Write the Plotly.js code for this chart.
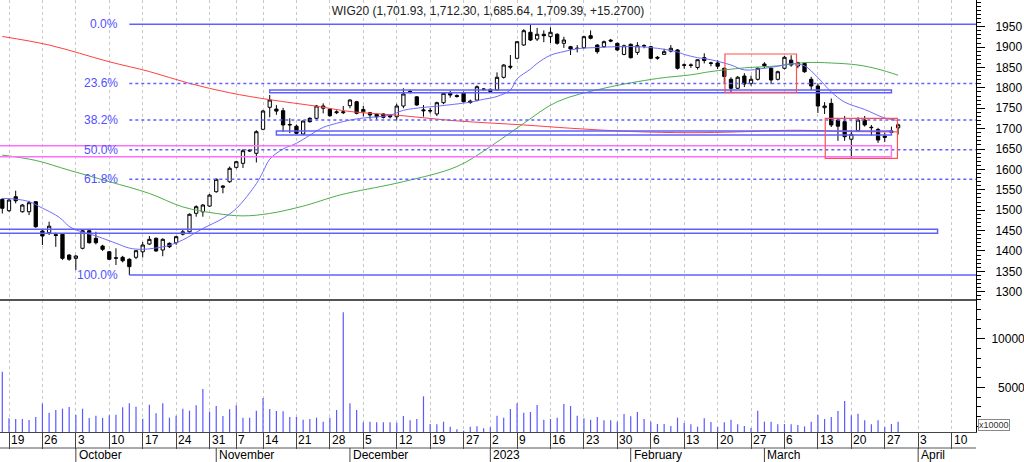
<!DOCTYPE html>
<html><head><meta charset="utf-8">
<script src="https://cdn.plot.ly/plotly-3.0.1.min.js"></script>
<style>html,body{margin:0;padding:0;background:#fff}#chart{width:1024px;height:462px}</style>
</head><body><div id="chart"></div>
<script>
// ---- OHLC (one per trading day, index 0 = 16 Sep 2022 ... 134 = 29 Mar 2023)
const openP = [1526.6,1498.7,1533,1496.2,1496.2,1520.8,1448.9,1444.7,1440,1441,1390,1381.9,1406.5,1449.6,1431,1412,1398,1382,1384.4,1379.5,
1384.4,1398,1417,1431,1402.3,1418.7,1420.2,1441,1447,1492.3,1496,1510,1545.3,1556,1569.8,1605,1614.9,1645,1639.5,1698.4,
1752.3,1748,1744,1709,1706,1686.8,1725.3,1725.3,1750,1747.4,1739,1739,1756.3,1766,1741.5,1739,1735,1735.9,1733,1729,
1755.5,1791,1778,1746,1744.5,1736,1763.6,1786.6,1781,1788,1767.5,1770,1796,1791,1794.7,1825.9,1853,1872.5,1905.1,1936.3,
1919.8,1931.4,1925.5,1931.4,1909.3,1901,1897.5,1898.5,1928,1905,1901,1917,1909.3,1882,1906.8,1887,1902.5,1901,1875,1882,
1890,1893,1856.5,1855,1850,1874,1860,1861,1848,1821,1799,1829,1811,1821,1858.5,1848,1821,1848,1868,1853.6,
1860,1821,1804.6,1751.4,1762,1721,1717,1674,1695,1721,1703.5,1698,1681.9,1691,1701.93];
const highP = [1529,1527,1547.7,1515,1523,1522,1451,1471.7,1445,1443,1392,1390,1452,1452,1447,1415,1400,1406.5,1388,1382,
1402,1422,1436.6,1433,1431,1421,1437,1452,1492,1512,1515,1540,1578,1561.7,1607,1621,1650,1650,1696,1746,
1782.5,1757.8,1751,1725.5,1710,1720,1728,1758,1762,1750,1745,1755.5,1772,1768,1756,1741,1737,1738,1735,1761,
1799,1795,1780,1758,1751,1766,1789,1792.6,1784,1791,1771,1806,1799,1798.5,1838,1858,1880.6,1915,1944,1955.9,
1947,1941,1948.7,1934,1925.5,1903,1905,1928,1941,1907,1916,1920,1911,1906,1909,1912,1907,1903,1878,1896,
1905,1895,1860,1860,1869,1884.8,1864,1868,1850,1826,1829,1836,1830,1850,1863,1850,1842,1878,1880,1864,
1862,1827,1811,1765,1774,1724,1731,1697,1728,1731,1709,1702,1690,1705,1712.30];
const lowP = [1492,1496,1516.8,1494,1488,1457,1414.6,1439,1410,1378,1376,1353,1404,1418,1416,1400,1378,1365.5,1372,1341,
1380,1384,1414.6,1398,1387,1407,1415,1438,1445,1484,1484,1508,1543,1541.4,1567,1602,1603.6,1643,1617,1696,
1727.8,1734,1691.6,1689,1686,1685,1715,1723,1737.6,1729,1735.7,1735.7,1750,1735,1730,1724,1722,1725,1725,1720,
1750,1786,1756,1729.3,1737,1731,1760,1776,1776,1764,1761,1767,1793,1788,1794,1823,1845.5,1870,1903,1915,
1915,1912,1910,1906,1898,1880.6,1887,1896,1919,1884,1898,1912,1890,1880,1872,1881,1897,1870,1869,1881,
1887,1845,1847,1849,1845,1860,1853,1846,1811,1789,1797,1802,1805,1818,1848,1809,1818,1845,1852,1848,
1837,1794,1738.4,1736,1704,1670,1670,1628,1693,1705,1683,1665,1667,1686,1685.64];
const closeP = [1504.6,1524.9,1523,1512.6,1518.3,1459.4,1436.6,1460.7,1438,1381.9,1379.5,1387.5,1449.6,1420.2,1420.2,1404,1379.5,1383,1376,1361.5,
1400.6,1414.6,1428.5,1400,1428.5,1410.4,1435,1447,1490,1508.5,1512.6,1537,1575.7,1559,1602.7,1618.9,1645.9,1647,1692.5,1743.2,
1770.2,1743,1709,1710,1688.5,1718.7,1717,1755.5,1755.5,1731.7,1741,1741,1770.2,1737.6,1747,1733.5,1729,1727.7,1729,1755.5,
1785,1789,1758,1744,1743.5,1763.6,1786.6,1782.5,1779,1766,1764,1802.8,1797,1796.4,1825.9,1856,1851,1913.2,1940.2,1917.4,
1931.4,1928,1936.3,1909.3,1917.4,1895.3,1896.5,1925.5,1921.6,1888.7,1913.2,1915,1893,1903.4,1874,1903.4,1903.5,1872.5,1873,1888.7,
1897,1848,1855.5,1856,1869,1867,1861,1853,1828,1799,1826,1809.5,1821,1848,1854,1819.3,1839.6,1875,1856,1861.8,
1839.6,1804.6,1755.5,1755.5,1709,1706,1680.2,1686,1721,1709,1702.5,1672,1678.7,1694.12,1709.39];
// ---- Volume (x10000)
const volume = [6611,1816,1747,1747,1644,1953,3323,2398,2672,2809,2980,2158,2809,1850,2090,1850,2124,2193,2946,3357,
3015,1781,3220,2330,3357,1884,2090,2809,2604,3152,4830,2501,3083,2055,2741,3152,1884,1884,2604,3905,
2775,2569,2535,1953,1953,1678,1747,1884,1473,1884,2672,12709,3357,2672,1404,1473,1404,1404,1404,1370,
2055,1610,1747,4076,1233,1199,1473,959,685,548,959,993,788,900,2090,1884,2775,3357,2398,2466,
3186,1678,1747,1884,3289,3083,2090,1816,1678,1953,1610,1610,1473,2261,2021,2466,1747,1473,1233,1233,
1028,1884,1336,1199,959,1816,1439,925,1404,1678,1199,1028,822,2604,1473,1473,1199,1233,1199,1130,
993,1473,2158,1747,1953,2569,3597,2124,2295,1610,1199,1610,925,1233,1473];
// ---- Moving averages (day index, value)
const maShortIdx = [0,2,4,6,8,9,10,12,14,15,17,19,21,24,25,27,30,33,35,38,39,40,42,44,46,48,50,52,54,58,60,63,65,70,72,74,76,77,79,80,82,84,86,89,92,95,98,101,102,104,106,109,111,114,116,118,120,122,124,126,129,132,134];
const maShortVal = [1529,1527,1521,1505,1488,1476,1460,1446,1437,1431,1419,1407,1404,1410,1414,1427,1455,1480,1504,1565,1594,1625,1650,1664,1684,1703,1713,1721,1726,1733,1745,1752,1755,1765,1772,1779,1795,1822,1846,1860,1880,1889,1896,1899,1901,1901,1897,1888,1882,1874,1869,1856,1844,1848,1853,1859,1854,1825,1790,1765,1747,1726,1720];
const maMidIdx = [0,5,10,16,22,27,32,36,40,45,50,52,60,68,73,78,83,90,98,103,106,111,116,120,124,128,131,134];
const maMidVal = [1635,1622,1598,1570,1541,1508,1492,1486,1492,1510,1535,1543,1570,1607,1656,1713,1766,1799,1823,1832,1840,1849,1854,1862,1861,1856,1846,1831];
const maLongIdx = [0,7,16,22,28,34,40,47,52,59,68,78,85,94,103,110,118,122,126,134];
const maLongVal = [1926,1905,1864,1840,1811,1788,1771,1755,1742,1733,1719,1709,1701,1693,1690,1692,1696,1695,1693,1692];
// ---- Axis labels
const weekIdx = [1,6,11,16,21,26,31,35,39,44,49,54,59,64,69,73,77,82,87,92,97,102,107,112,117,122,127,132,137,142];
const weekLabels = ['19','26','3','10','17','24','31','7','14','21','28','5','12','19','27','2','9','16','23','30','6','13','20','27','6','13','20','27','3','10'];
const monthIdx = [11,32,52,73,94,114,137];
const monthLabels = ['October','November','December','2023','February','March','April'];
const priceTicks = [1300,1350,1400,1450,1500,1550,1600,1650,1700,1750,1800,1850,1900,1950];
const volTicks = [5000,10000];
const volTickText = ['\u20075000','10000'];
// ---- Fibonacci retracement (low at day 19, high at day 79)
const fibStartIdx = 19;
const fibLow = 1341, fibHigh = 1955.9;
const fibRatios = [0,0.236,0.382,0.5,0.618,1];
const fibLabels = ['0.0%','23.6%','38.2%','50.0%','61.8%','100.0%'];
// ---- Drawn zones [x0,x1,y0,y1]
const blueZones = [[40,133,1788,1794.7],[41,133,1684.4,1694.2],[-5,139.9,1443.3,1453.1]];
const pinkZones = [[-5,133,1631,1658]];
const redZones = [[108.1,118.8,1789,1883],[123.1,133.9,1627,1725]];

const xRange = [-0.346, 145.65];
const FONT = 'Liberation Sans, Arial, sans-serif';
const days = openP.map((_, i) => i);
const n = closeP.length;
function fmt(v){const s=v.toFixed(2);const [a,b]=s.split('.');return a.replace(/\B(?=(\d{3})+(?!\d))/g,',')+'.'+b;}
const chg = closeP[n-1]-closeP[n-2];
const titleText = 'WIG20 ('+fmt(openP[n-1])+', '+fmt(highP[n-1])+', '+fmt(lowP[n-1])+', '+fmt(closeP[n-1])+', '+(chg>=0?'+':'')+chg.toFixed(4)+')';

const traces = [
 {type:'scatter',mode:'lines',x:maLongIdx,y:maLongVal,line:{color:'#ff4040',width:1,shape:'spline'},xaxis:'x',yaxis:'y',hoverinfo:'skip'},
 {type:'scatter',mode:'lines',x:maMidIdx,y:maMidVal,line:{color:'#4cae4c',width:1,shape:'spline'},xaxis:'x',yaxis:'y',hoverinfo:'skip'},
 {type:'scatter',mode:'lines',x:maShortIdx,y:maShortVal,line:{color:'#6c6cff',width:1,shape:'spline'},xaxis:'x',yaxis:'y',hoverinfo:'skip'},
 {type:'candlestick',x:days,open:openP,high:highP,low:lowP,close:closeP,xaxis:'x',yaxis:'y',whiskerwidth:0,
  increasing:{line:{color:'#000',width:1},fillcolor:'#ffffff'},decreasing:{line:{color:'#000',width:1},fillcolor:'#000000'}},
 {type:'bar',x:days,y:volume,xaxis:'x',yaxis:'y2',width:0.18,marker:{color:'#5a5aff',line:{width:0}},hoverinfo:'skip'}
];

const shapes = [];
const annotations = [];
fibRatios.forEach((r,i)=>{
  const lv = fibHigh - r*(fibHigh-fibLow);
  const solid = (r===0||r===1);
  shapes.push({type:'line',xref:'x',yref:'y',x0:fibStartIdx,x1:xRange[1],y0:lv,y1:lv,
    line:{color:'#6060ff',width:1.5,dash:solid?'solid':'dot'}});
  annotations.push({xref:'x',yref:'y',x:fibStartIdx,y:lv,xanchor:'right',yanchor:'middle',xshift:-9,showarrow:false,
    text:fibLabels[i],font:{family:FONT,size:12,color:'#5050ff'}});
});
blueZones.forEach(z=>shapes.push({type:'rect',xref:'x',yref:'y',x0:z[0],x1:z[1],y0:z[2],y1:z[3],line:{color:'#6060ff',width:1.5}}));
pinkZones.forEach(z=>shapes.push({type:'rect',xref:'x',yref:'y',x0:z[0],x1:z[1],y0:z[2],y1:z[3],line:{color:'#ff70ff',width:1.5}}));
redZones.forEach(z=>shapes.push({type:'rect',xref:'x',yref:'y',x0:z[0],x1:z[1],y0:z[2],y1:z[3],line:{color:'#ff5050',width:1.2}}));
// panel separator & date rows
const H = 432;
shapes.push({type:'line',xref:'paper',yref:'paper',x0:0,x1:1,y0:132/H,y1:132/H,line:{color:'#555',width:2}});
shapes.push({type:'line',xref:'paper',yref:'paper',x0:0,x1:1,y0:-16/H,y1:-16/H,line:{color:'#555',width:1}});
monthIdx.forEach((m,i)=>{
  shapes.push({type:'line',xref:'x',yref:'paper',x0:m,x1:m,y0:-16/H,y1:-32/H,line:{color:'#444',width:1}});
  annotations.push({xref:'x',yref:'paper',x:m,y:-23/H,xanchor:'left',yanchor:'middle',xshift:1,showarrow:false,
    text:monthLabels[i],font:{family:FONT,size:12,color:'#000'}});
});
weekIdx.forEach((w,i)=>{
  annotations.push({xref:'x',yref:'paper',x:w,y:-8/H,xanchor:'left',yanchor:'middle',xshift:0,showarrow:false,
    text:weekLabels[i],font:{family:FONT,size:12,color:'#000'}});
});
annotations.push({xref:'paper',yref:'paper',x:1,y:0,xanchor:'left',yanchor:'bottom',xshift:2,yshift:1,showarrow:false,
  text:'x10000',font:{family:FONT,size:9,color:'#333'},bordercolor:'#888',borderwidth:1,borderpad:0,bgcolor:'#fff'});

const layout = {
  width:1024,height:462,margin:{l:0,r:48,t:0,b:30},
  paper_bgcolor:'#fff',plot_bgcolor:'#fff',showlegend:false,
  font:{family:FONT,size:12,color:'#000'},
  title:{text:titleText,x:0.4766,xref:'container',xanchor:'center',y:1-11/462,yref:'container',yanchor:'middle',
    font:{family:FONT,size:12,color:'#222'}},
  xaxis:{range:xRange,anchor:'y2',tickmode:'array',tickvals:weekIdx,showticklabels:false,ticks:'outside',ticklen:16,
    tickcolor:'#444',tickwidth:1,showgrid:true,gridcolor:'#c8c8c8',griddash:'dot',gridwidth:1,zeroline:false,
    showline:true,linecolor:'#444',linewidth:1,rangeslider:{visible:false},fixedrange:true},
  yaxis:{domain:[132/H,1],range:[1279.7,2015.5],side:'right',anchor:'x',tickmode:'array',tickvals:priceTicks,
    ticks:'outside',ticklen:8,tickcolor:'#000',showgrid:false,zeroline:false,showline:true,linecolor:'#000',
    ticklabelstandoff:8,tickfont:{family:FONT,size:12,color:'#000'},
    minor:{tickmode:'linear',tick0:1300,dtick:10,ticks:'outside',ticklen:4,tickcolor:'#000',showgrid:false}},
  yaxis2:{domain:[0,132/H],range:[411,13977],side:'right',anchor:'x',tickmode:'array',tickvals:volTicks,ticktext:volTickText,
    ticks:'outside',ticklen:8,tickcolor:'#000',showgrid:false,zeroline:false,showline:true,linecolor:'#000',
    ticklabelstandoff:4,tickfont:{family:FONT,size:12,color:'#000'},
    minor:{tickmode:'linear',tick0:0,dtick:1000,ticks:'outside',ticklen:4,tickcolor:'#000',showgrid:false}},
  shapes:shapes,annotations:annotations
};
Plotly.newPlot('chart',traces,layout,{displayModeBar:false,staticPlot:true});
</script></body></html>
